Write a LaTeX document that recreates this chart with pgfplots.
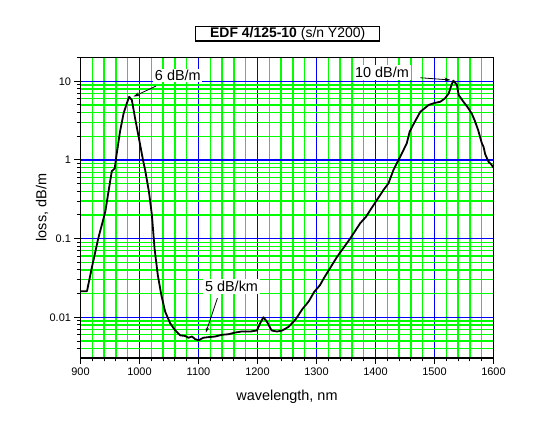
\documentclass[border=0pt]{standalone}
\usepackage{pgfplots}
\pgfplotsset{compat=1.18}
\usepackage{fontspec}
\setmainfont{Liberation Sans}
\usetikzlibrary{arrows.meta}
\definecolor{gridgreen}{RGB}{0,255,0}
\definecolor{gridblue}{RGB}{0,0,255}
\pgfplotstableread{
x y
900 0.0215
911 0.0215
919 0.042
930 0.1
942 0.22
953 0.72
958 0.78
961 1.15
967 2.3
973 3.9
978.5 5.25
982.5 6.35
987 5.8
992.5 3.4
998 2.07
1006.5 0.95
1009.5 0.75
1016 0.395
1021 0.2
1025.5 0.075
1031 0.0345
1037 0.0192
1043.5 0.0118
1052 0.0084
1060 0.0069
1069 0.0059
1077 0.0058
1083 0.0055
1089 0.0057
1094 0.0053
1100 0.0051
1108 0.0055
1117 0.0056
1128 0.0057
1140 0.0060
1151 0.0061
1162 0.0064
1173 0.0066
1188 0.0066
1199 0.0068
1204.5 0.0084
1210 0.0100
1216 0.0088
1224 0.0068
1233 0.0066
1242 0.0068
1253 0.0076
1265 0.0095
1276 0.0127
1287 0.0160
1296 0.0210
1306 0.0257
1312 0.0310
1335 0.059
1357 0.100
1374 0.157
1384 0.190
1391 0.230
1413.5 0.415
1422 0.505
1430.5 0.75
1439 1.00
1447.5 1.34
1453 1.63
1458 2.3
1465 2.9
1470 3.4
1476 4.1
1481 4.4
1490 5.0
1500 5.3
1510 5.5
1518 6.1
1524 7.0
1529.5 9.3
1532 10.2
1538 9.0
1541 6.7
1549 5.5
1556 4.7
1563 3.9
1568 3.2
1574 2.4
1580 1.65
1583 1.48
1586 1.18
1591.5 0.95
1596 0.88
1600 0.80
}\loss
\begin{document}
\begin{tikzpicture}
\path[use as bounding box] (0,0) rectangle (538bp,435bp);
\begin{axis}[
  at={(80.5bp,77bp)}, anchor=south west,
  scale only axis, width=413bp, height=300.7bp,
  xmin=900, xmax=1600, ymode=log, ymin=0.00304, ymax=20.2,
  xtick={900,1000,1100,1200,1300,1400,1500,1600},
  xticklabels={900,1000,1100,1200,1300,1400,1500,1600},
  minor x tick num=4,
  ytick={0.01,0.1,1,10},
  yticklabels={0.01,0.1,1,10},
  minor ytick={0.003,0.004,0.005,0.006,0.007,0.008,0.009,0.02,0.03,0.04,0.05,0.06,0.07,0.08,0.09,0.2,0.3,0.4,0.5,0.6,0.7,0.8,0.9,2,3,4,5,6,7,8,9,20},
  grid=both,
  major grid style={gridblue, line width=1.25bp},
  minor grid style={gridgreen, line width=1.25bp},
  axis line style={black, line width=1.1bp},
  tick style={black, line width=1bp},
  major tick length=6bp, minor tick length=3.5bp,
  tick align=outside, xtick pos=bottom, ytick pos=left,
  tick label style={font=\fontsize{11}{13}\selectfont},
  xlabel={wavelength, nm},
  ylabel={loss, dB/m},
  label style={font=\fontsize{14.5}{17}\selectfont},
  xlabel style={at={(axis description cs:0.5,-0.13)}, anchor=center},
  ylabel style={at={(axis description cs:-0.093,0.5)}, anchor=center},
  title={\textbf{EDF 4/125-10} (s/n Y200)},
  title style={at={(axis description cs:0.5,1)}, anchor=center, yshift=17.6bp, xshift=0.7bp,
    draw=black, line width=1.1bp, minimum width=184bp, minimum height=14.5bp, inner sep=0pt,
    font=\fontsize{14}{16}\selectfont},
]
\addplot[black, line width=1.8bp, line join=round] table[x=x,y=y] {\loss};
\node[fill=white, inner sep=1.5bp, font=\fontsize{14.5}{17}\selectfont] at (axis cs:1065,11.9) {6 dB/m};
\draw[black, line width=0.8bp, -{Stealth[length=6bp,width=4bp]}] (axis cs:1028,8.7) -- (axis cs:990,6.4);
\node[fill=white, inner sep=2bp, font=\fontsize{14.5}{17}\selectfont] at (axis cs:1411,12.9) {10 dB/m};
\draw[black, line width=0.8bp, -{Stealth[length=6bp,width=4bp]}] (axis cs:1476,11.1) -- (axis cs:1527,10.4);
\node[fill=white, inner sep=2bp, font=\fontsize{14.5}{17}\selectfont] at (axis cs:1156,0.0247) {5 dB/km};
\draw[black, line width=0.8bp, -{Stealth[length=5bp,width=3bp]}] (axis cs:1132,0.0175) -- (axis cs:1112.5,0.0064);
\end{axis}
\end{tikzpicture}
\end{document}
